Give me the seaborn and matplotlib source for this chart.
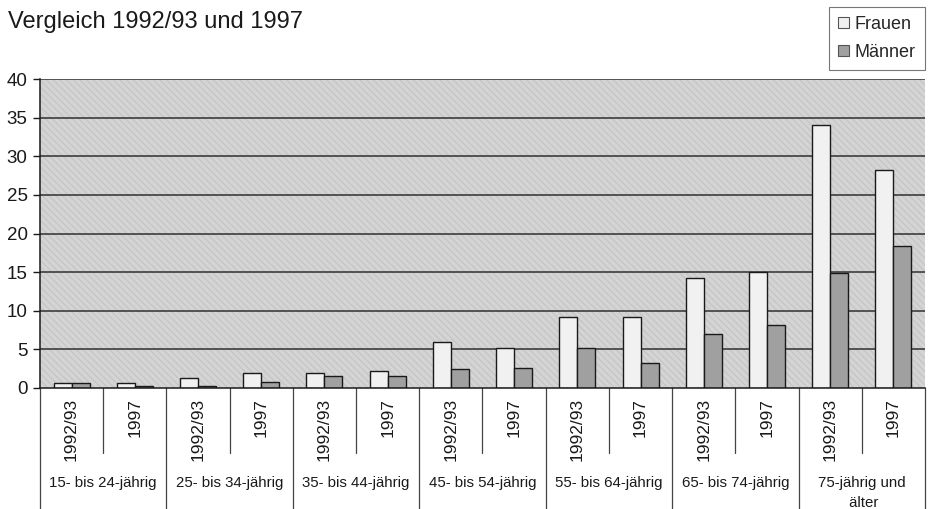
import numpy as np
import pandas as pd
import matplotlib
matplotlib.use("Agg")
import matplotlib.pyplot as plt
import matplotlib.transforms as mtransforms
from matplotlib.patches import Rectangle, Patch
import seaborn as sns

# Age groups and survey years
age_groups = ["15- bis 24-jährig", "25- bis 34-jährig", "35- bis 44-jährig",
              "45- bis 54-jährig", "55- bis 64-jährig", "65- bis 74-jährig",
              "75-jährig und\n älter"]
years = ["1992/93", "1997"]

# Values per age group, alternating 1992/93, 1997
frauen = [0.7, 0.6, 1.3, 2.0, 2.0, 2.2, 5.9, 5.2, 9.2, 9.2, 14.2, 15.0, 34.0, 28.2]
maenner = [0.7, 0.3, 0.3, 0.8, 1.5, 1.5, 2.5, 2.6, 5.2, 3.3, 7.0, 8.1, 14.9, 18.4]

y_ticks = [0, 5, 10, 15, 20, 25, 30, 35, 40]

sns.set_theme(style="white")
plt.rcParams["font.family"] = ["Liberation Sans Narrow", "Liberation Sans", "DejaVu Sans"]
plt.rcParams["hatch.linewidth"] = 0.7

slots = [f"{g}|{y}" for g in age_groups for y in years]
df = pd.DataFrame({
    "slot": slots * 2,
    "Wert": frauen + maenner,
    "Geschlecht": ["Frauen"] * len(slots) + ["Männer"] * len(slots),
})

ink = "#1a1a1a"
fig = plt.figure(figsize=(9.33, 5.09), dpi=100)
ax = fig.add_axes([40 / 933, 1 - 388 / 509, 885 / 933, 309 / 509])

# textured grey plot background
ax.set_facecolor("white")
bg = Rectangle((0, 0), 1, 1, transform=ax.transAxes, facecolor="#d4d4d4",
               edgecolor="#c2c2c2", hatch="\\\\\\\\\\", lw=0, zorder=0)
ax.add_patch(bg)

sns.barplot(data=df, x="slot", y="Wert", hue="Geschlecht", order=slots,
            hue_order=["Frauen", "Männer"],
            palette={"Frauen": "#f1f1f1", "Männer": "#a0a0a0"},
            width=0.57, dodge=True, edgecolor=ink, linewidth=1.0,
            ax=ax, zorder=3, legend=False)

ax.set_xlim(-0.5, len(slots) - 0.5)
ax.set_ylim(0, 40)
ax.set_yticks(y_ticks)
ax.set_yticklabels([str(t) for t in y_ticks], fontsize=13.5, color=ink)
ax.tick_params(axis="y", length=5, width=1, color=ink, pad=4, left=True)
for t in y_ticks[1:]:
    ax.axhline(t, color="#303030", lw=1.1, zorder=1)

ax.set_xticks(range(len(slots)))
ax.set_xticklabels([s.split("|")[1] for s in slots], rotation=90,
                   fontsize=12.5, color=ink, va="top")
ax.tick_params(axis="x", length=0, pad=7)
ax.set_xlabel("")
ax.set_ylabel("")

for name in ["top", "right"]:
    ax.spines[name].set_visible(False)
for name in ["left", "bottom"]:
    ax.spines[name].set_color(ink)
    ax.spines[name].set_linewidth(1.1)
    ax.spines[name].set_zorder(5)

# category separators below the axis
trans = mtransforms.blended_transform_factory(ax.transData, ax.transAxes)
for i in range(len(slots) + 1):
    x = i - 0.5
    low = -0.39 if i % 2 == 0 else -0.21
    ax.plot([x, x], [0, low], transform=trans, color="#444444", lw=0.9,
            clip_on=False)

for k, g in enumerate(age_groups):
    ax.text(2 * k + 0.5, -0.285, g, transform=trans, ha="center", va="top",
            fontsize=10.8, color=ink, linespacing=1.5)

fig.text(8 / 933, 1 - 22 / 509, "Vergleich 1992/93 und 1997", fontsize=17,
         color=ink, ha="left", va="center")

handles = [Patch(facecolor="#f1f1f1", edgecolor="#555555", lw=0.8),
           Patch(facecolor="#a0a0a0", edgecolor="#555555", lw=0.8)]
leg = fig.legend(handles, ["Frauen", "Männer"], loc="upper right",
                 bbox_to_anchor=(925 / 933, 1 - 7 / 509), fontsize=13,
                 frameon=True, fancybox=False, handlelength=0.6,
                 handleheight=0.6, handletextpad=0.35, borderpad=0.5,
                 labelspacing=0.6, borderaxespad=0)
leg.get_frame().set_edgecolor("#555555")
leg.get_frame().set_linewidth(0.8)

fig.savefig("out.png", dpi=100)
